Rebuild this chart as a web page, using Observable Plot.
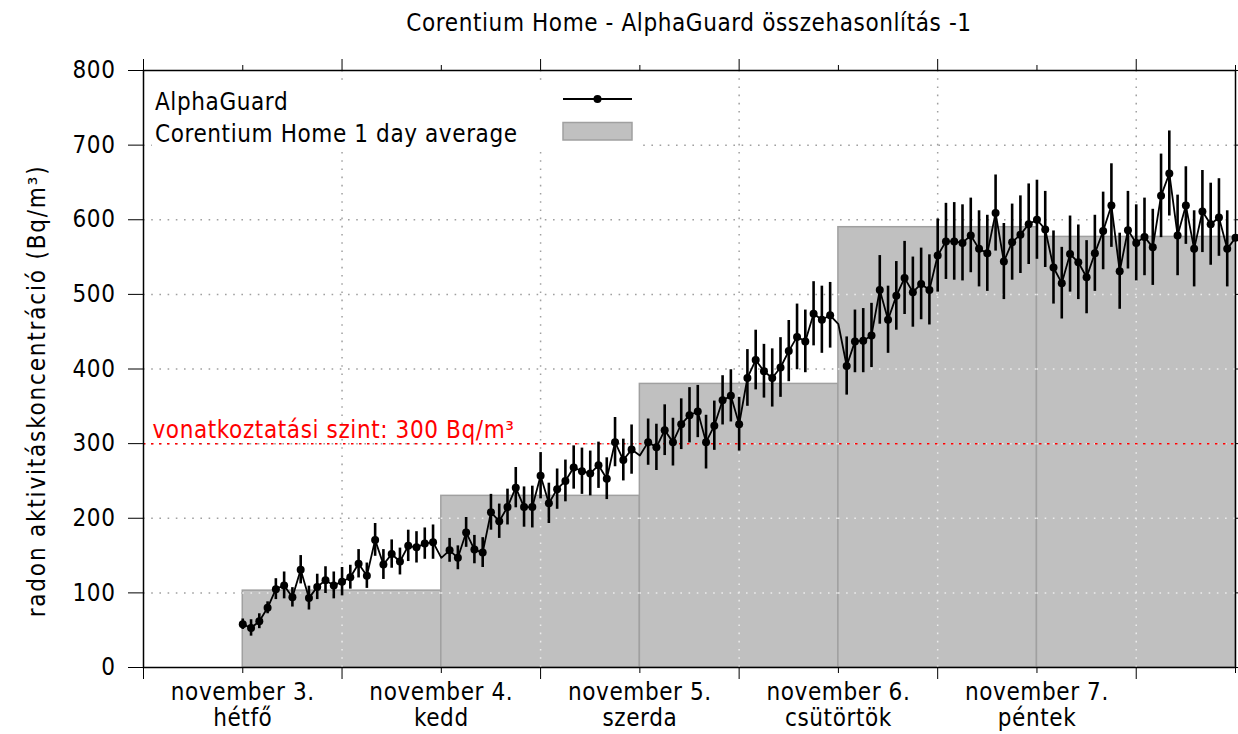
<!DOCTYPE html>
<html><head><meta charset="utf-8">
<script src="https://cdn.jsdelivr.net/npm/d3@7"></script>
<script src="https://cdn.jsdelivr.net/npm/@observablehq/plot@0.6"></script>
<style>
html,body{margin:0;padding:0;background:#fff;overflow:hidden;}
body{font-family:"DejaVu Sans Condensed","DejaVu Sans",sans-serif;font-stretch:condensed;letter-spacing:0.6px;}
#title{width:1238px;height:45px;box-sizing:border-box;padding-left:143px;padding-right:3px;display:flex;align-items:center;justify-content:center;font-size:24px;color:#000;}
</style></head><body>
<div id="title">Corentium Home - AlphaGuard összehasonlítás -1</div>
<div id="chart"></div>
<script>
// AlphaGuard hourly readings (Bq/m3), starting november 3. 00:00
const alphaValues = [58,53,62,80,105,110,94,131,93,108,117,110,115,121,139,123,171,138,152,142,163,161,166,168,
147,157,147,181,158,154,208,196,215,241,215,215,257,220,239,250,268,263,260,271,253,302,278,292,
284,302,295,318,302,326,338,343,302,324,358,364,326,388,412,397,388,402,424,443,437,474,466,472,
460,404,437,438,445,506,466,498,522,503,514,506,552,571,571,569,579,561,555,609,544,570,580,594,
600,587,536,515,554,543,523,555,585,619,531,586,569,577,563,632,662,579,619,561,611,594,603,561,576];
// half length of the error bars (null = no point drawn)
const alphaErrors = [7,11,10,8,14,18,13,19,16,17,18,18,19,16,19,17,22,20,19,18,21,21,21,23,
null,16,16,20,19,20,24,23,24,27,27,28,31,27,27,28,29,31,30,31,28,33,28,33,
null,31,31,34,32,34,37,35,36,33,33,35,36,38,40,36,39,40,41,44,42,43,45,44,
null,39,42,43,43,46,45,46,49,47,48,47,49,51,52,51,50,51,51,51,51,51,52,54,
53,51,49,48,51,50,49,51,52,56,51,52,51,52,51,56,57,54,52,51,55,55,52,51,0];
// Corentium Home daily averages
const dayStart = [0,24,48,72,96];
const dayEnd = [24,48,72,96,120];
const dayAverages = [103,230,380,590,577];
const dayLabels = ["november 3.\nhétfő","november 4.\nkedd","november 5.\nszerda","november 6.\ncsütörtök","november 7.\npéntek"];
const noonTicks = [-12,12,36,60,84,108];
const midnightTicks = [0,24,48,72,96,120];
const yTicks = [0,100,200,300,400,500,600,700,800];
const gridY = [100,200,300,400,500,600,700];
const xDomain = [-12,120];
const yDomain = [0,800];
const referenceLevel = 300;
const referenceLabel = "vonatkoztatási szint: 300 Bq/m³";
const yLabel = "radon aktivitáskoncentráció (Bq/m³)";
const seriesNames = ["AlphaGuard","Corentium Home 1 day average"];

const alpha = alphaValues.map((v,i)=>({hour:i,value:v,err:alphaErrors[i]}));
const days = dayStart.map((s,i)=>({x1:s,x2:dayEnd[i],avg:dayAverages[i]}));
const overH = days.flatMap(d=>gridY.filter(g=>g<d.avg).map(g=>({x1:d.x1,x2:d.x2,y:g})));
const overV = days.flatMap(d=>noonTicks.filter(t=>t>d.x1&&t<d.x2).map(t=>({x:t,y2:d.avg})));

const FONT='"DejaVu Sans Condensed","DejaVu Sans",sans-serif';
const dots = "1.6,6.6";
const plot = Plot.plot({
  width:1238, height:689,
  marginLeft:143, marginRight:3, marginTop:25, marginBottom:67,
  style:{fontFamily:FONT,fontSize:"24px",letterSpacing:"0.6px",fontStretch:"condensed",background:"#fff",overflow:"visible",color:"#000"},
  x:{domain:xDomain},
  y:{domain:yDomain},
  marks:[
    Plot.ruleY(gridY,{stroke:"#a0a0a0",strokeWidth:1.5,strokeDasharray:dots}),
    Plot.ruleX(noonTicks.slice(1),{stroke:"#a0a0a0",strokeWidth:1.5,strokeDasharray:dots}),
    Plot.rectY(days,{x1:"x1",x2:"x2",y1:0,y2:"avg",fill:"#c0c0c0",stroke:"#a0a0a0",strokeWidth:1.5}),
    Plot.ruleY(overH,{x1:"x1",x2:"x2",y:"y",stroke:"#ececec",strokeWidth:1.5,strokeDasharray:dots}),
    Plot.ruleX(overV,{x:"x",y1:0,y2:"y2",stroke:"#ececec",strokeWidth:1.5,strokeDasharray:dots}),
    Plot.ruleY([referenceLevel],{stroke:"#ff0000",strokeWidth:1.5,strokeDasharray:"2.5,5.5"}),
    Plot.text([referenceLevel],{x:()=>xDomain[0],y:d=>d,text:()=>referenceLabel,textAnchor:"start",lineAnchor:"bottom",dx:9,dy:-6,fill:"#ff0000"}),
    Plot.line(alpha,{x:"hour",y:"value",stroke:"#000",strokeWidth:1.8}),
    Plot.ruleX(alpha.filter(d=>d.err),{x:"hour",y1:d=>d.value-d.err,y2:d=>d.value+d.err,stroke:"#000",strokeWidth:2.6}),
    Plot.dot(alpha.filter(d=>d.err!==null),{x:"hour",y:"value",r:4,fill:"#000"}),
    Plot.frame({stroke:"#000",strokeWidth:1.5}),
    Plot.axisY({ticks:yTicks,anchor:"left",tickSize:15,tickPadding:13,label:null,tickFormat:d=>String(d)}),
    Plot.axisY({ticks:yTicks,anchor:"right",tickSize:15,label:null,tickFormat:()=>""}),
    Plot.axisX({ticks:noonTicks,anchor:"bottom",tickSize:12,label:null,tickFormat:()=>""}),
    Plot.axisX({ticks:midnightTicks,anchor:"bottom",tickSize:6,tickPadding:8,label:null,lineHeight:1.08,
      tickFormat:d=>{const i=dayStart.indexOf(d);return i<0?"":dayLabels[i];}}),
    Plot.axisX({ticks:noonTicks,anchor:"top",tickSize:12,label:null,tickFormat:()=>""}),
    Plot.axisX({ticks:midnightTicks,anchor:"top",tickSize:6,label:null,tickFormat:()=>""}),
    Plot.text([yLabel],{frameAnchor:"left",textAnchor:"middle",lineAnchor:"middle",dx:-106,dy:22,rotate:-90,text:d=>d,fill:"#000",className:"ylab"})
  ]
});
document.getElementById("chart").appendChild(plot);
d3.select(plot).selectAll(".ylab text").style("letter-spacing","1.8px");

// legend (box with opaque background in the upper-left corner)
const svg = d3.select(plot);
const lg = svg.append("g").attr("font-family",FONT).attr("font-size",24);
lg.append("rect").attr("x",152).attr("y",38).attr("width",489).attr("height",65).attr("fill","#fff");
lg.append("text").attr("x",155).attr("y",65).text(seriesNames[0]).attr("fill","#000").attr("text-anchor","start");
lg.append("line").attr("x1",563).attr("x2",632).attr("y1",54).attr("y2",54).attr("stroke","#000").attr("stroke-width",2);
lg.append("circle").attr("cx",597.5).attr("cy",54).attr("r",4).attr("fill","#000");
lg.append("text").attr("x",155).attr("y",96.5).text(seriesNames[1]).attr("fill","#000").attr("text-anchor","start");
lg.append("rect").attr("x",563).attr("y",77.5).attr("width",69).attr("height",17.5).attr("fill","#c0c0c0").attr("stroke","#a0a0a0").attr("stroke-width",1.5);
</script>
</body></html>
